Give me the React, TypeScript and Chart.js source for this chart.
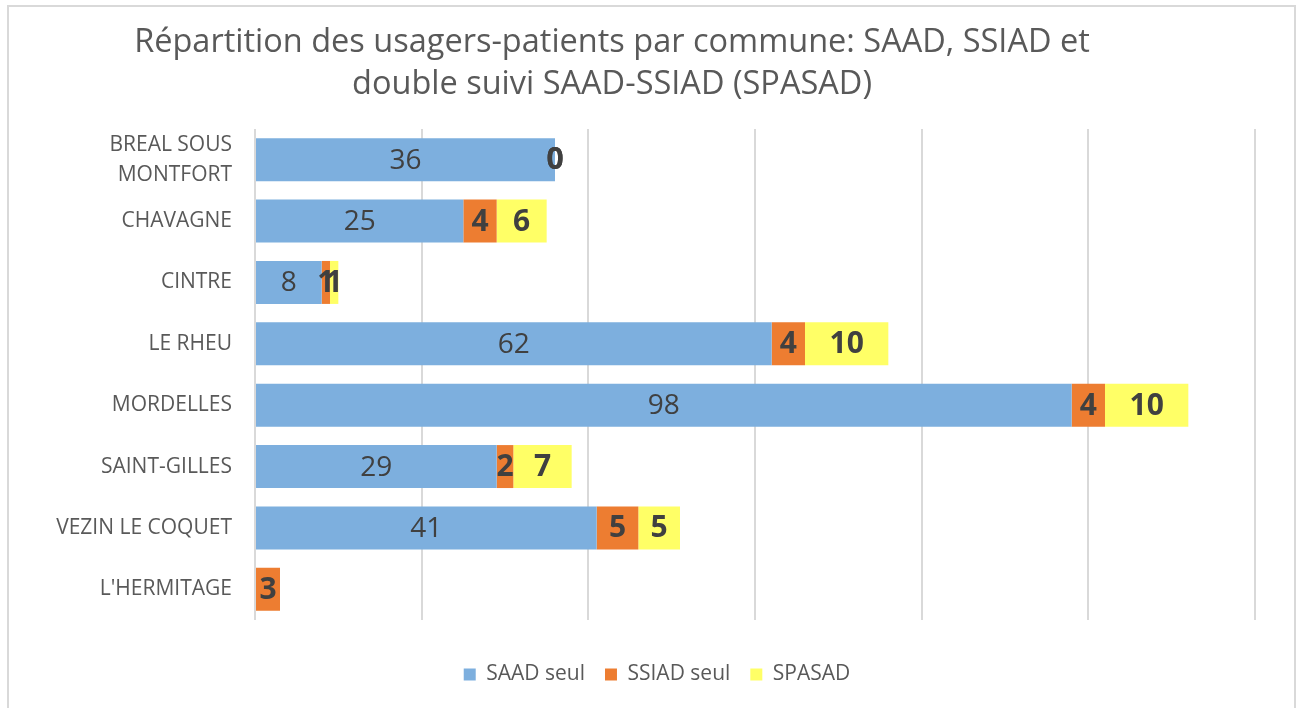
import React, { useEffect, useRef } from "react";
import { Chart, registerables } from "chart.js";

Chart.register(...registerables);

const categories: (string | string[])[] = [
  ["BREAL SOUS", "MONTFORT"],
  "CHAVAGNE",
  "CINTRE",
  "LE RHEU",
  "MORDELLES",
  "SAINT-GILLES",
  "VEZIN LE COQUET",
  "L'HERMITAGE",
];
const saadSeul: (number | null)[] = [36, 25, 8, 62, 98, 29, 41, null];
const ssiadSeul: (number | null)[] = [0, 4, 1, 4, 4, 2, 5, 3];
const spasad: (number | null)[] = [0, 6, 1, 10, 10, 7, 5, null];
const seriesNames = ["SAAD seul", "SSIAD seul", "SPASAD"];
const titleLines = [
  "Répartition des usagers-patients par commune: SAAD, SSIAD et",
  "double suivi SAAD-SSIAD (SPASAD)",
];

const FONT = "'Open Sans', 'DejaVu Sans', sans-serif";

const titlePlugin = {
  id: "customTitle",
  afterDraw(chart: any) {
    const ctx = chart.ctx;
    ctx.save();
    ctx.font = `32.5px ${FONT}`;
    ctx.fillStyle = "#595959";
    ctx.textAlign = "center";
    ctx.textBaseline = "middle";
    ctx.fillText(titleLines[0], 612, 43);
    ctx.fillText(titleLines[1], 612, 85);
    ctx.restore();
  },
};

const labelPlugin = {
  id: "segLabels",
  afterDatasetsDraw(chart: any) {
    const ctx = chart.ctx;
    ctx.save();
    ctx.textAlign = "center";
    ctx.textBaseline = "middle";
    ctx.fillStyle = "#404040";
    chart.data.datasets.forEach((ds: any, di: number) => {
      const meta = chart.getDatasetMeta(di);
      ctx.font = di === 0 ? `28px ${FONT}` : `bold 30px ${FONT}`;
      meta.data.forEach((el: any, i: number) => {
        const v = ds.data[i];
        if (v === null || v === undefined) return;
        const x = (el.x + el.base) / 2;
        ctx.fillText(String(v), x, el.y + 1);
      });
    });
    ctx.restore();
  },
};

export default function App() {
  const ref = useRef<HTMLCanvasElement>(null);
  useEffect(() => {
    if (!ref.current) return;
    const chart = new Chart(ref.current, {
      type: "bar",
      data: {
        labels: categories,
        datasets: [
          { label: seriesNames[0], data: saadSeul, backgroundColor: "#7DAFDE" },
          { label: seriesNames[1], data: ssiadSeul, backgroundColor: "#ED7D31" },
          { label: seriesNames[2], data: spasad, backgroundColor: "#FFFF66" },
        ],
      },
      options: {
        indexAxis: "y",
        animation: false,
        responsive: false,
        datasets: { bar: { barPercentage: 0.7, categoryPercentage: 1 } },
        layout: { padding: { top: 129, left: 18, right: 0, bottom: 13 } },
        scales: {
          x: {
            stacked: true,
            min: 0,
            max: 120,
            ticks: { stepSize: 20, display: false },
            grid: { color: "#d9d9d9", lineWidth: 2, drawTicks: false },
            border: { display: false },
            afterFit: (s: any) => {
              s.height = 24;
            },
          },
          y: {
            stacked: true,
            grid: { display: false, drawTicks: false },
            border: { display: false },
            ticks: {
              autoSkip: false,
              padding: 23,
              color: "#595959",
              font: { family: FONT, size: 21, lineHeight: 1.42 },
            },
            afterFit: (s: any) => {
              s.width = 237;
            },
          },
          y2: {
            type: "linear",
            axis: "y",
            position: "right",
            grid: { display: false, drawTicks: false },
            border: { display: false },
            ticks: { display: false },
            afterFit: (s: any) => {
              s.width = 41;
            },
          },
        },
        plugins: {
          title: { display: false },
          tooltip: { enabled: false },
          legend: {
            position: "bottom",
            labels: {
              boxWidth: 12,
              boxHeight: 12,
              padding: 20,
              color: "#595959",
              font: { family: FONT, size: 21 },
            },
          },
        },
      } as any,
      plugins: [titlePlugin, labelPlugin],
    });
    return () => chart.destroy();
  }, []);
  return (
    <div
      style={{
        position: "fixed",
        left: 0,
        top: 0,
        width: 1296,
        height: 708,
        overflow: "hidden",
        background: "#fff",
      }}
    >
      <div
        style={{
          position: "absolute",
          left: 7,
          top: 5,
          width: 1285,
          height: 800,
          border: "2px solid #d9d9d9",
        }}
      />
      <canvas
        ref={ref}
        width={1296}
        height={708}
        style={{ position: "absolute", left: 0, top: 0, width: 1296, height: 708 }}
      />
    </div>
  );
}
